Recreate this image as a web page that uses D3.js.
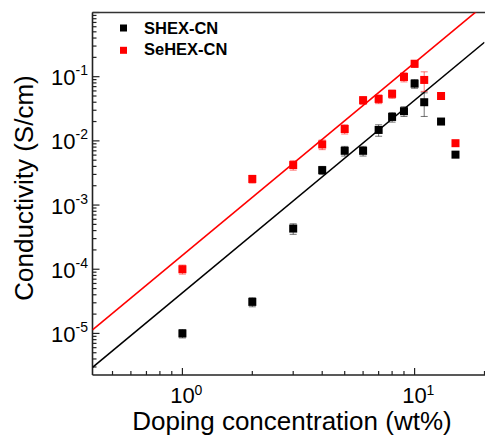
<!DOCTYPE html>
<html>
<head>
<meta charset="utf-8">
<script src="https://cdn.jsdelivr.net/npm/d3@7"></script>
<style>
  body { margin: 0; background: #fff; }
  text { font-family: "Liberation Sans", Arial, sans-serif; }
</style>
</head>
<body>
<div id="chart"></div>
<script>
// doping concentration (wt%)
const doping = [1, 2, 3, 4, 5, 6, 7, 8, 9, 10, 11, 13, 15];

// conductivity (S/cm) and error for each series
const shexValues = [1.0e-5, 3.1e-5, 4.3e-4, 3.5e-3, 7.0e-3, 7.0e-3, 0.0148, 0.0236, 0.029, 0.078, 0.040, 0.020, 0.0061];
const shexErrors = [1.5e-6, 5e-6, 8e-5, 5e-4, 1.2e-3, 1.2e-3, 3e-3, 4e-3, 5e-3, 1.2e-2, 1.6e-2, 1e-3, 3e-4];
const sehexValues = [1.0e-4, 2.55e-3, 4.2e-3, 8.8e-3, 0.0153, 0.043, 0.045, 0.054, 0.099, 0.159, 0.089, 0.050, 0.0092];
const sehexErrors = [1.6e-5, 3.5e-4, 7e-4, 1.5e-3, 2.5e-3, 6e-3, 7e-3, 8e-3, 1.6e-2, 2e-2, 3e-2, 2e-3, 5e-4];

// power-law fits: sigma = A * x^n
const seriesNames = ["SHEX-CN", "SeHEX-CN"];
const fitPrefactor = [4.3e-5, 1.65e-4];
const fitExponent = [3, 3];

const colors = ["#000000", "#ff0000"];

// dimensions
const W = 485, H = 435;
const margin = {left: 92.5, top: 12.5, right: 484.5, bottom: 375};

const svg = d3.select("#chart")
  .append("svg")
    .attr("width", W)
    .attr("height", H);

const x = d3.scaleLog().domain([0.41, 20]).range([margin.left, margin.right]);
const y = d3.scaleLog().domain([2.25e-6, 1]).range([margin.bottom, margin.top]);

// clip for plot area
svg.append("clipPath").attr("id", "clip")
  .append("rect")
    .attr("x", margin.left).attr("y", margin.top)
    .attr("width", margin.right - margin.left).attr("height", margin.bottom - margin.top);

// ticks
const xTicks = [0.5, 0.6, 0.7, 0.8, 0.9, 1, 2, 3, 4, 5, 6, 7, 8, 9, 10, 20];
const yTicks = [];
for (let e = -6; e <= -1; e++) {
  for (let m = 1; m <= 9; m++) {
    const v = m * Math.pow(10, e);
    if (v >= 2.25e-6 && v <= 1) yTicks.push(v);
  }
}
yTicks.push(1);
const isMajor = v => Math.abs(Math.log10(v) - Math.round(Math.log10(v))) < 1e-9;

const axisColor = "#222";

// x axis ticks (inward)
svg.append("g")
  .selectAll("line")
  .data(xTicks)
  .enter()
  .append("line")
    .attr("x1", d => x(d)).attr("x2", d => x(d))
    .attr("y1", margin.bottom).attr("y2", d => margin.bottom - (isMajor(d) ? 7 : 4))
    .attr("stroke", axisColor).attr("stroke-width", 1.2);

// y axis ticks (inward)
svg.append("g")
  .selectAll("line")
  .data(yTicks)
  .enter()
  .append("line")
    .attr("y1", d => y(d)).attr("y2", d => y(d))
    .attr("x1", margin.left).attr("x2", d => margin.left + (isMajor(d) ? 7 : 4))
    .attr("stroke", axisColor).attr("stroke-width", 1.2);

// frame
svg.append("line").attr("x1", margin.left).attr("x2", W).attr("y1", margin.top).attr("y2", margin.top)
  .attr("stroke", "#333").attr("stroke-width", 1.6);
svg.append("line").attr("x1", margin.left).attr("x2", W).attr("y1", margin.bottom).attr("y2", margin.bottom)
  .attr("stroke", axisColor).attr("stroke-width", 1.6);
svg.append("line").attr("x1", margin.left).attr("x2", margin.left).attr("y1", margin.top).attr("y2", margin.bottom)
  .attr("stroke", axisColor).attr("stroke-width", 1.6);

// x tick labels (10^0, 10^1)
const xLabelTicks = [1, 10];
const xl = svg.append("g").selectAll("g").data(xLabelTicks).enter().append("g");
xl.append("text")
  .attr("x", d => x(d)).attr("y", 403)
  .attr("text-anchor", "middle")
  .attr("font-size", 22)
  .text("10");
xl.append("text")
  .attr("x", d => x(d) + 12).attr("y", 395)
  .attr("font-size", 14)
  .text(d => Math.round(Math.log10(d)));

// y tick labels
const yLabelTicks = [1e-5, 1e-4, 1e-3, 1e-2, 1e-1];
const yl = svg.append("g").selectAll("text").data(yLabelTicks).enter()
  .append("text")
    .attr("x", 88)
    .attr("y", d => y(d) + 8.5)
    .attr("text-anchor", "end")
    .attr("font-size", 22);
yl.append("tspan").text("10");
yl.append("tspan")
  .attr("font-size", 14)
  .attr("dy", -10)
  .text(d => "-" + Math.abs(Math.round(Math.log10(d))));

// axis titles
svg.append("text")
  .attr("x", 292).attr("y", 430)
  .attr("text-anchor", "middle")
  .attr("font-size", 26)
  .text("Doping concentration (wt%)");
svg.append("text")
  .attr("transform", "translate(33,188) rotate(-90)")
  .attr("text-anchor", "middle")
  .attr("font-size", 26)
  .text("Conductivity (S/cm)");

// fit lines
const plot = svg.append("g").attr("clip-path", "url(#clip)");
const line = d3.line().x(d => x(d[0])).y(d => y(d[1]));
seriesNames.forEach((name, i) => {
  const xs = x.domain();
  const pts = xs.map(v => [v, fitPrefactor[i] * Math.pow(v, fitExponent[i])]);
  plot.append("path")
    .datum(pts)
    .attr("d", line)
    .attr("fill", "none")
    .attr("stroke", colors[i])
    .attr("stroke-width", 1.6);
});

// points with error bars
const seriesData = [
  doping.map((d, j) => ({x: d, v: shexValues[j], e: shexErrors[j]})),
  doping.map((d, j) => ({x: d, v: sehexValues[j], e: sehexErrors[j]}))
];
const sz = 8, cap = 3.5;
seriesData.forEach((data, i) => {
  const g = svg.append("g");
  const eb = g.selectAll(".eb").data(data).enter().append("g")
    .attr("stroke", colors[i]).attr("stroke-opacity", 0.55).attr("stroke-width", 1);
  eb.append("line")
    .attr("x1", d => x(d.x)).attr("x2", d => x(d.x))
    .attr("y1", d => y(d.v + d.e)).attr("y2", d => y(d.v - d.e));
  eb.append("line")
    .attr("x1", d => x(d.x) - cap).attr("x2", d => x(d.x) + cap)
    .attr("y1", d => y(d.v + d.e)).attr("y2", d => y(d.v + d.e));
  eb.append("line")
    .attr("x1", d => x(d.x) - cap).attr("x2", d => x(d.x) + cap)
    .attr("y1", d => y(d.v - d.e)).attr("y2", d => y(d.v - d.e));
  g.selectAll("rect").data(data).enter().append("rect")
    .attr("x", d => x(d.x) - sz / 2)
    .attr("y", d => y(d.v) - sz / 2)
    .attr("width", sz).attr("height", sz)
    .attr("fill", colors[i]);
});

// legend
const legend = svg.append("g").selectAll("g").data(seriesNames).enter().append("g");
legend.append("rect")
  .attr("x", 120).attr("y", (d, i) => 24.5 + i * 22.3)
  .attr("width", 7).attr("height", 7)
  .attr("fill", (d, i) => colors[i]);
legend.append("text")
  .attr("x", 144).attr("y", (d, i) => 33.5 + i * 21.7)
  .attr("font-size", 16.5)
  .attr("font-weight", "bold")
  .text(d => d);
</script>
</body>
</html>
